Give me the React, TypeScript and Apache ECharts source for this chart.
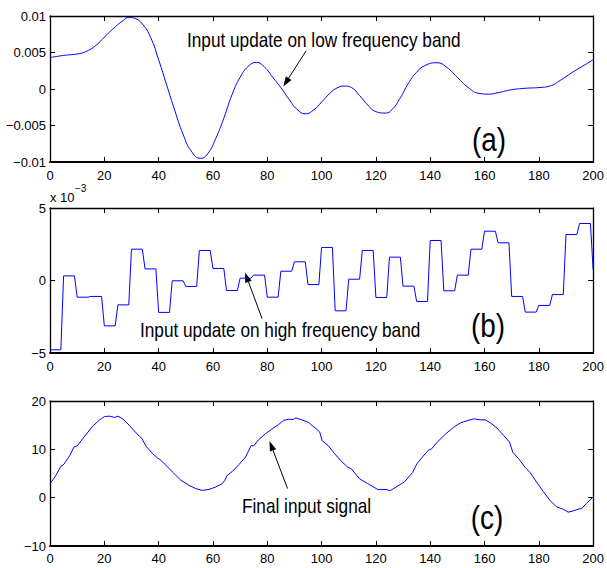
import React, { useEffect, useRef } from "react";
import * as echarts from "echarts";

// Panel (a): input update on low frequency band
const lowBandX = [0, 5, 10, 13, 17, 20, 24, 27, 29, 31, 34, 37, 40, 43, 46, 49, 52, 55.5, 58, 61, 64, 67, 70, 73, 76, 79, 82, 85, 88, 91, 94, 97, 100, 103, 106, 108.5, 111, 114, 117, 120, 123.5, 126, 129, 132, 135, 138, 142.5, 146, 150, 154, 158, 161.5, 165, 170, 175, 180, 184, 188, 192, 196, 200];
const lowBandY = [0.0043, 0.0046, 0.0048, 0.0051, 0.006, 0.0071, 0.0085, 0.0094, 0.0098, 0.0097, 0.0089, 0.0071, 0.004, 0.0005, -0.003, -0.0062, -0.0085, -0.0095, -0.0089, -0.0068, -0.004, -0.0008, 0.0016, 0.0031, 0.00365, 0.003, 0.0016, 0.0002, -0.0014, -0.0028, -0.0034, -0.0029, -0.0018, -0.0006, 0.0002, 0.0004, 0.0002, -0.0009, -0.0022, -0.0031, -0.0033, -0.0028, -0.0012, 0.0008, 0.0023, 0.0032, 0.0036, 0.003, 0.0016, 0.0002, -0.0006, -0.0007, -0.0005, -0.0001, 0.0001, 0.0002, 0.0004, 0.0012, 0.0022, 0.0031, 0.004];

// Panel (b): input update on high frequency band (x 10^-3), one level per block of 5 samples
const highBandStart = [0, 5, 10, 15, 20, 25, 30, 35, 40, 45, 50, 55, 60, 65, 70, 75, 80, 85, 90, 95, 100, 105, 110, 115, 120, 125, 130, 135, 140, 145, 150, 155, 160, 165, 170, 175, 180, 185, 190, 195];
const highBandLevel = [-4.78, 0.32, -1.15, -1.1, -3.13, -1.68, 2.16, 0.8, -2.2, -0.02, -0.41, 2.07, 0.83, -0.69, 0.16, 0.37, -1.15, 0.64, 1.29, -0.28, 2.28, -2.09, 0.09, 2.07, -1.17, 1.61, -0.39, -1.45, 2.76, -0.71, 0.37, 2.16, 3.4, 2.6, -1.1, -2.18, -1.72, -0.97, 3.17, 3.93];
const highBandEnd = [200, 0.74];

// Panel (c): final input signal
const finalX = [0, 1.8, 4, 5.1, 7.3, 8.8, 10, 12.2, 14.6, 15.9, 18.3, 18.9, 20.1, 22, 23.8, 25, 26.8, 29.3, 31.7, 33.9, 35.4, 37.8, 39.6, 40.5, 42.7, 45.1, 48.2, 51.2, 53.7, 56.1, 58.5, 61, 63.4, 64.4, 65.2, 67.1, 69.5, 72, 74.1, 75, 76.8, 79.3, 81.7, 84.1, 86, 87.8, 89.6, 90.5, 92.7, 95.1, 98.1, 99.3, 100.2, 102.4, 104.8, 107.3, 109.7, 110.9, 114, 117, 120.7, 123.7, 125.3, 128, 130.4, 133.5, 135.1, 137.1, 139.3, 140.5, 142.6, 145.7, 148.7, 151.2, 153.6, 156, 158.5, 160.3, 162.1, 164.6, 167, 169.2, 170.4, 172.5, 174.9, 176.8, 179.2, 181.6, 184.1, 186.5, 189, 190.8, 192.6, 194.8, 195.7, 197.5, 199.7, 200];
const finalY = [2.89, 4.27, 6.47, 6.9, 8.74, 10.46, 10.7, 12.3, 14.0, 14.9, 16.1, 16.3, 16.8, 16.86, 16.6, 16.86, 16.3, 14.9, 13.4, 12.2, 10.6, 9.1, 8.2, 7.9, 6.7, 5.3, 3.6, 2.55, 1.86, 1.5, 1.7, 2.2, 2.9, 3.6, 4.6, 5.4, 6.8, 8.4, 10.8, 10.7, 12.0, 13.2, 14.2, 15.1, 16.0, 16.2, 16.2, 16.5, 16.1, 15.6, 14.2, 13.6, 11.8, 10.8, 9.1, 7.5, 6.3, 6.0, 3.9, 2.9, 1.7, 1.7, 1.45, 2.4, 3.2, 5.2, 7.0, 8.4, 9.8, 10.1, 11.5, 13.2, 14.6, 15.5, 15.9, 16.3, 16.1, 16.1, 15.5, 14.4, 12.9, 11.5, 9.4, 8.1, 6.3, 5.2, 3.2, 1.3, -0.55, -1.9, -2.4, -3.0, -2.75, -2.3, -2.3, -1.2, 0.0, 0.0];

const xRange = { min: 0, max: 200, interval: 20 };
const yRanges = [
  { min: -0.01, max: 0.01, interval: 0.005 },
  { min: -5, max: 5, interval: 5 },
  { min: -10, max: 20, interval: 10 },
];

const FONT = "'Liberation Sans', Arial, sans-serif";

function fmt(v: number): string {
  const s = String(+Number(v).toPrecision(6));
  return s.replace("-", "\u2212");
}

function arrow(x1: number, y1: number, x2: number, y2: number) {
  const dx = x2 - x1;
  const dy = y2 - y1;
  const len = Math.sqrt(dx * dx + dy * dy);
  const ux = dx / len;
  const uy = dy / len;
  const hl = 10;
  const hw = 3.4;
  const bx = x2 - ux * hl;
  const by = y2 - uy * hl;
  return [
    { type: "line", shape: { x1, y1, x2: bx, y2: by }, style: { stroke: "#000", lineWidth: 1 } },
    {
      type: "polygon",
      shape: { points: [[x2, y2], [bx - uy * hw, by + ux * hw], [bx + uy * hw, by - ux * hw]] },
      style: { fill: "#000" },
    },
  ];
}

function narrowText(text: string, x: number, y: number, size: number, align: string) {
  return {
    type: "text",
    x,
    y,
    scaleX: 0.82,
    style: { text, fill: "#000", font: `${size}px ${FONT}`, align, verticalAlign: "middle" },
  };
}

export default function App() {
  const ref = useRef<HTMLDivElement>(null);
  useEffect(() => {
    if (!ref.current) return;
    const chart = echarts.init(ref.current, undefined, { renderer: "svg" });
    const grids = [
      { left: 50, top: 16, width: 547, height: 146 },
      { left: 50, top: 208, width: 547, height: 145 },
      { left: 50, top: 401, width: 547, height: 145 },
    ];
    const thin = { show: true, onZero: false, lineStyle: { color: "#000", width: 1.3 } };
    const thick = { show: true, onZero: false, lineStyle: { color: "#000", width: 2 } };
    const tick = { show: true, inside: true, length: 5, lineStyle: { color: "#000" } };
    const xAxis: any[] = [];
    const yAxis: any[] = [];
    grids.forEach((_, i) => {
      xAxis.push({
        type: "value", gridIndex: i, position: "bottom", ...xRange,
        axisLine: thick, splitLine: { show: false }, axisTick: tick,
        axisLabel: { show: true, color: "#000", fontSize: 13, fontFamily: FONT, margin: i === 2 ? 6 : 7, formatter: fmt },
      });
      xAxis.push({
        type: "value", gridIndex: i, position: "top", ...xRange,
        axisLine: thin, splitLine: { show: false }, axisTick: tick,
        axisLabel: { show: false },
      });
      yAxis.push({
        type: "value", gridIndex: i, position: "left", ...yRanges[i],
        axisLine: thin, splitLine: { show: false }, axisTick: tick,
        axisLabel: { show: true, color: "#000", fontSize: 13, fontFamily: FONT, margin: 4, formatter: fmt },
      });
      yAxis.push({
        type: "value", gridIndex: i, position: "right", ...yRanges[i],
        axisLine: thin, splitLine: { show: false }, axisTick: tick,
        axisLabel: { show: false },
      });
    });

    const lowData = lowBandX.map((x, k) => [x, lowBandY[k]]);
    const highData: number[][] = [];
    highBandStart.forEach((s, k) => {
      highData.push([s, highBandLevel[k]]);
      highData.push([s + 4, highBandLevel[k]]);
    });
    highData.push(highBandEnd);
    const finalData = finalX.map((x, k) => [x, finalY[k]]);

    const lineStyle = { color: "#0000ff", width: 1 };
    const graphic: any[] = [
      narrowText("Input update on low frequency band", 187, 40, 21, "left"),
      ...arrow(306, 51, 283.3, 86.5),
      narrowText("Input update on high frequency band", 140, 330, 21, "left"),
      ...arrow(262, 318.5, 245, 272.5),
      narrowText("Final input signal", 242, 505.7, 21, "left"),
      ...arrow(287.5, 488.5, 269.5, 441),
      narrowText("(a)", 489, 140, 34, "center"),
      narrowText("(b)", 488, 326, 34, "center"),
      narrowText("(c)", 487, 518, 34, "center"),
      { type: "text", x: 50, y: 197.5, style: { text: "x 10", fill: "#000", font: `13px ${FONT}`, align: "left", verticalAlign: "middle" } },
      { type: "text", x: 75, y: 188, style: { text: "\u22123", fill: "#000", font: `10px ${FONT}`, align: "left", verticalAlign: "middle" } },
    ];

    chart.setOption({
      animation: false,
      backgroundColor: "#fff",
      grid: grids,
      xAxis,
      yAxis,
      graphic,
      series: [
        { type: "line", xAxisIndex: 0, yAxisIndex: 0, data: lowData, smooth: true, showSymbol: false, lineStyle },
        { type: "line", xAxisIndex: 2, yAxisIndex: 2, data: highData, showSymbol: false, lineStyle },
        { type: "line", xAxisIndex: 4, yAxisIndex: 4, data: finalData, showSymbol: false, lineStyle },
      ],
    });
    return () => chart.dispose();
  }, []);
  return <div ref={ref} style={{ position: "fixed", left: 0, top: 0, width: 607, height: 568 }} />;
}
